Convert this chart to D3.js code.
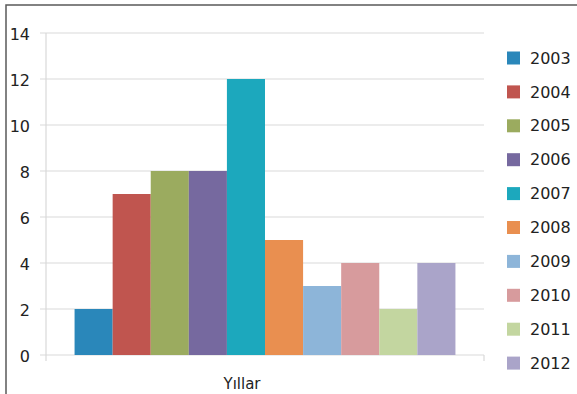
<!DOCTYPE html>
<html><head><meta charset="utf-8">
<script src="https://cdn.jsdelivr.net/npm/d3@7"></script>
<style>body{margin:0;background:#fff}svg{display:block}</style>
</head><body>
<svg id="c" width="577" height="394"></svg>
<script>
const years = ["2003","2004","2005","2006","2007","2008","2009","2010","2011","2012"];
const values = [2,7,8,8,12,5,3,4,2,4];
const colors = ["#2a87ba","#c0554f","#9bab5f","#76699f","#1ca8bd","#e98f50","#8db5d9","#d79b9d","#c3d6a0","#aaa4c9"];
const yTicks = [0,2,4,6,8,10,12,14];
const xTitle = "Yıllar";

(function(){
const svg = d3.select("#c");
const font = "DejaVu Sans, Verdana, sans-serif";

// frame
svg.append("rect").attr("x",6).attr("y",5).attr("width",580).attr("height",400)
  .attr("fill","none").attr("stroke","#5a5a5a").attr("stroke-width",1.5);

const pl = 46, pr = 484, pt = 33, pb = 355;
const y = d3.scaleLinear().domain([0,14]).range([pb, pt]);
const band = d3.scaleBand().domain(["c"]).range([pl, pr]).paddingInner(0).paddingOuter(0.075);
const x = d3.scaleBand().domain(years).range([band("c"), band("c")+band.bandwidth()]).padding(0);

// gridlines
svg.append("g").selectAll("line").data(yTicks).join("line")
  .attr("x1", pl-6).attr("x2", pr)
  .attr("y1", d=>y(d)).attr("y2", d=>y(d))
  .attr("stroke","#d9d9d9").attr("stroke-width",1.2);

// axis lines / ticks
svg.append("line").attr("x1",pl).attr("x2",pl).attr("y1",pt).attr("y2",pb+6)
  .attr("stroke","#d9d9d9").attr("stroke-width",1.2);
svg.append("line").attr("x1",pr).attr("x2",pr).attr("y1",pb).attr("y2",pb+6)
  .attr("stroke","#d9d9d9").attr("stroke-width",1.2);

// y labels
svg.append("g").selectAll("text").data(yTicks).join("text")
  .attr("x", 30).attr("y", d=>y(d)+1).attr("dy","0.35em")
  .attr("text-anchor","end").attr("font-family",font).attr("font-size",16)
  .attr("fill","#222").text(d=>d);

// bars
svg.append("g").selectAll("rect").data(years).join("rect")
  .attr("x", d=>x(d)).attr("width", x.bandwidth())
  .attr("y", (d,i)=>y(values[i])).attr("height",(d,i)=>y(0)-y(values[i]))
  .attr("fill",(d,i)=>colors[i]);

// x title
svg.append("text").attr("x",242).attr("y",389).attr("text-anchor","middle")
  .attr("font-family",font).attr("font-size",15).attr("fill","#222").text(xTitle);

// legend
const lg = svg.append("g").selectAll("g").data(years).join("g")
  .attr("transform",(d,i)=>`translate(507,${58 + i*33.9})`);
lg.append("rect").attr("x",0).attr("y",-6.5).attr("width",13).attr("height",13)
  .attr("fill",(d,i)=>colors[i]);
lg.append("text").attr("x",23).attr("y",0).attr("dy","0.35em")
  .attr("font-family",font).attr("font-size",16).attr("fill","#222").text(d=>d);
})();
</script>
</body></html>
